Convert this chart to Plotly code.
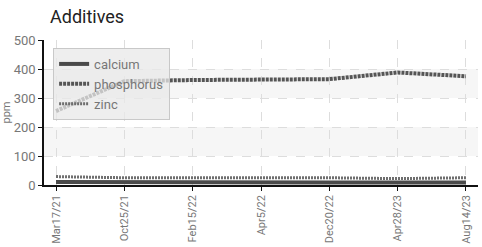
import plotly.graph_objects as go

dates = ["Mar17/21", "Oct25/21", "Feb15/22", "Apr5/22", "Dec20/22", "Apr28/23", "Aug14/23"]
calcium = [10, 9, 9, 9, 9, 9, 9]
phosphorus = [255, 358, 362, 362, 365, 388, 375]
zinc = [29, 25, 25, 25, 25, 22, 25]
y_ticks = [0, 100, 200, 300, 400, 500]
bands = [(100, 200), (300, 400)]

FONT = "Roboto, sans-serif"
GREY = "#777"

fig = go.Figure()
fig.add_trace(go.Scatter(x=dates, y=calcium, name="calcium", mode="lines",
                         line=dict(color="#4a4a4a", width=4)))
fig.add_trace(go.Scatter(x=dates, y=phosphorus, name="phosphorus", mode="lines",
                         line=dict(color="#555555", width=4, dash="3px,1px")))
fig.add_trace(go.Scatter(x=dates, y=zinc, name="zinc", mode="lines",
                         line=dict(color="#6e6e6e", width=3, dash="2px,1px")))

for lo, hi in bands:
    fig.add_shape(type="rect", xref="paper", yref="y", x0=0, x1=1, y0=lo, y1=hi,
                  fillcolor="rgba(0,0,0,0.035)", line=dict(width=0), layer="below")

fig.update_layout(
    width=482, height=247,
    margin=dict(l=44, r=4, t=40, b=62),
    paper_bgcolor="white", plot_bgcolor="white",
    title=dict(text="Additives", x=50 / 482, xref="container", xanchor="left",
               y=1 - 17 / 247, yref="container", yanchor="middle",
               font=dict(family=FONT, size=18, color="#222")),
    showlegend=True,
    legend=dict(x=0.021, y=0.945, xanchor="left", yanchor="top",
                bgcolor="rgba(232,232,232,0.75)", bordercolor="rgba(195,195,195,0.9)", borderwidth=1,
                font=dict(family=FONT, size=13, color=GREY), itemwidth=30, tracegroupgap=0),
)
fig.update_xaxes(type="category", range=[-0.176, 6.176], tickangle=-90,
                 tickfont=dict(family=FONT, size=11, color=GREY),
                 showgrid=True, gridcolor="#dddddd", griddash="dash", gridwidth=1,
                 showline=True, linecolor="#111", linewidth=1.5, automargin=False,
                 ticks="outside", ticklen=4, tickcolor="#111", zeroline=False)
fig.update_yaxes(range=[0, 500], tickvals=y_ticks, tickfont=dict(family=FONT, size=13, color=GREY),
                 showgrid=True, gridcolor="#dddddd", griddash="dash", gridwidth=1,
                 showline=True, linecolor="#111", linewidth=1.5, automargin=False,
                 ticks="outside", ticklen=4, tickcolor="#111", zeroline=False,
                 title=dict(text="ppm", font=dict(family=FONT, size=11, color=GREY), standoff=4))

fig.write_html("out.html", config={"displayModeBar": False},
               post_script="document.body.style.margin='0';")
